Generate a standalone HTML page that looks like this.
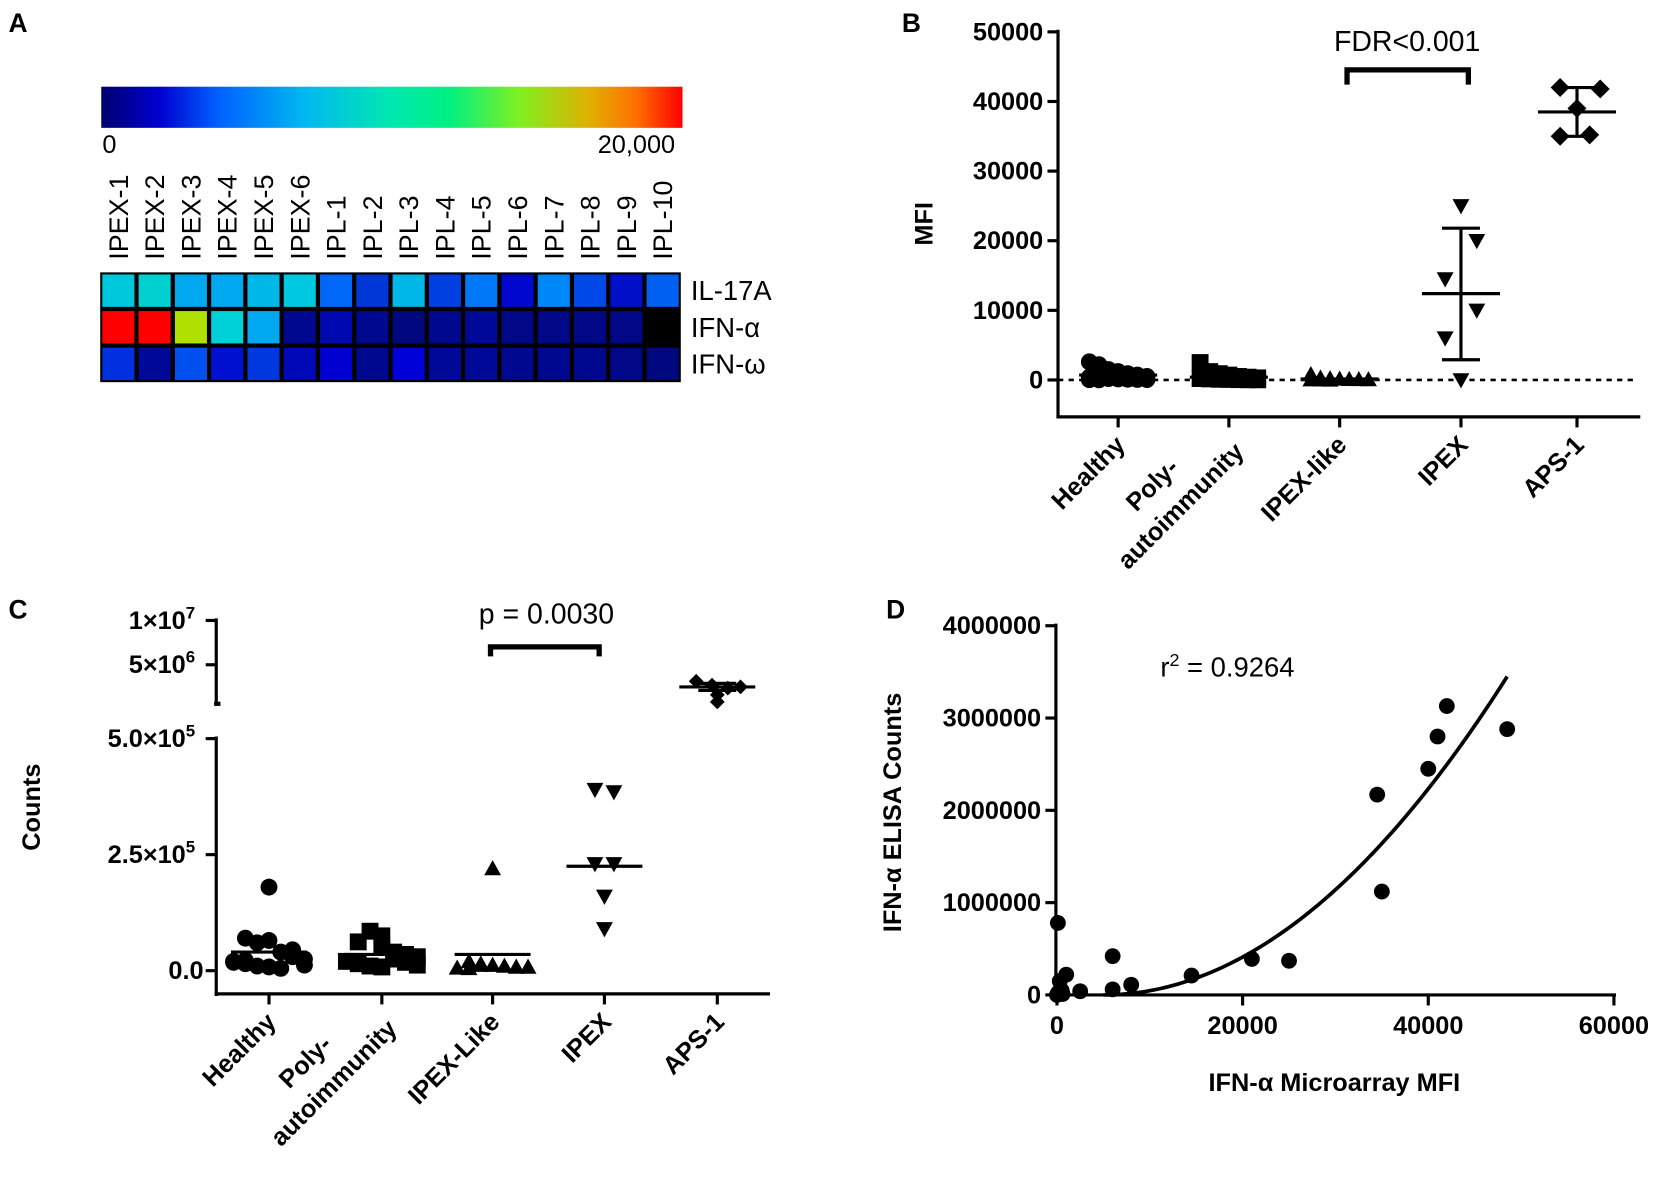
<!DOCTYPE html>
<html><head><meta charset="utf-8"><style>
html,body{margin:0;padding:0;background:#fff;}
svg{display:block;font-family:"Liberation Sans",sans-serif;}
.t{font-weight:bold;font-size:24px;}
</style></head><body>
<svg id="fig" width="1654" height="1204" viewBox="0 0 1568 1141" xmlns="http://www.w3.org/2000/svg">
<defs><linearGradient id="jet" x1="0" x2="1" y1="0" y2="0">
<stop offset="0" stop-color="#000070"/><stop offset="0.1" stop-color="#0000d0"/><stop offset="0.2" stop-color="#0060ff"/>
<stop offset="0.35" stop-color="#00b8f0"/><stop offset="0.5" stop-color="#00e8b0"/><stop offset="0.6" stop-color="#00f080"/>
<stop offset="0.72" stop-color="#80f020"/><stop offset="0.84" stop-color="#e0b000"/><stop offset="0.92" stop-color="#ff7000"/><stop offset="1" stop-color="#ff0000"/></linearGradient></defs>
<g id="A">
<text x="8" y="30" style="font-weight:bold;font-size:25px">A</text>
<rect x="96" y="82" width="551" height="39" fill="url(#jet)"/>
<text x="97" y="145" font-size="24">0</text>
<text x="640" y="145" font-size="24" text-anchor="end">20,000</text>
</g>
<g id="B"><text x="855" y="30" style="font-weight:bold;font-size:25px">B</text></g>
<g id="C"><text x="8" y="586" style="font-weight:bold;font-size:25px">C</text></g>
<g id="D"><text x="840" y="586" style="font-weight:bold;font-size:25px">D</text></g>
</svg>
<script>
const NS="http://www.w3.org/2000/svg";
// ---- Panel A data ----
const hmCols=["IPEX-1","IPEX-2","IPEX-3","IPEX-4","IPEX-5","IPEX-6","IPL-1","IPL-2","IPL-3","IPL-4","IPL-5","IPL-6","IPL-7","IPL-8","IPL-9","IPL-10"];
const hmRows=["IL-17A","IFN-α","IFN-ω"];
const hmIL17=["#00c8dc","#00d0d0","#00a8f0","#00a8f0","#00b8e8","#00c8e0","#0068f8","#0038d8","#00b8e8","#0040e0","#0078f8","#0008d0","#0088f8","#0048e8","#0010c8","#0060f0"];
const hmIFNa=["#ff0000","#ff0000","#b0e000","#00d0d8","#00a8f0","#000890","#0008b0","#000890","#000880","#000890","#000898","#000888","#000888","#000888","#000888","#000000"];
const hmIFNw=["#0030e0","#000898","#0050f0","#0010d0","#0038e0","#0008b8","#0000d0","#000890","#0000d8","#000898","#000898","#000890","#000890","#000890","#000888","#000880"];
// ---- Panel B data ----
const bCats=["Healthy","Poly-\nautoimmunity","IPEX-like","IPEX","APS-1"];
const bTicks=[0,10000,20000,30000,40000,50000];
const bHealthy=[2600,2200,1500,1200,900,700,500,400,300,200,150,100,80,60,40,20,800,600];
const bPoly=[2500,1200,900,700,500,400,300,200,150,100,80,50,30,20];
const bIpexLike=[800,300,200,150,100,80,60,40,30,20];
const bIpex=[25000,20000,14500,10000,6000,0];
const bAps=[42000,41800,39000,35000,35200];
const bMean=[700,400,150,12400,38500];
const bSd=[null,null,null,[2900,21800],[35000,42000]];
// ---- Panel C data ----
const cCats=["Healthy","Poly-\nautoimmunity","IPEX-Like","IPEX","APS-1"];
const cHealthy=[180000,70000,60000,65000,40000,45000,25000,20000,15000,10000,8000,5000,30000,12000,18000,22000];
const cPoly=[75000,62000,85000,50000,40000,35000,30000,20000,15000,10000,8000,25000,18000,12000];
const cIpexLike=[220000,20000,15000,12000,10000,8000,8000,6000,5000,12000];
const cIpex=[390000,385000,230000,230000,160000,90000];
const cAps=[2.9e6,2.7e6,2.6e6,2.5e6,2.0e6,2.2e6];
const cMean=[40000,35000,35000,225000,2.5e6];
// ---- Panel D data ----
const dX=[0,100,200,300,500,1000,2500,6000,6000,8000,14500,21000,25000,34500,35000,40000,41000,42000,48500,100,600];
const dY=[0,780000,30000,150000,50000,220000,40000,420000,60000,110000,210000,390000,370000,2170000,1120000,2450000,2800000,3130000,2880000,20000,10000];
const dYTicks=[0,1000000,2000000,3000000,4000000];
const dXTicks=[0,20000,40000,60000];

const svg=document.getElementById('fig');
function el(tag,attrs,parent,txt){const e=document.createElementNS(NS,tag);for(const k in attrs)e.setAttribute(k,attrs[k]);if(txt!==undefined)e.textContent=txt;(parent||svg).appendChild(e);return e;}
const gA=document.getElementById('A'),gB=document.getElementById('B'),gC=document.getElementById('C'),gD=document.getElementById('D');

// Heatmap
const hx0=95,hy0=258,cw=34.4,rh=34.7;
el('rect',{x:hx0,y:hy0,width:cw*16,height:rh*3,fill:'#000'},gA);
[hmIL17,hmIFNa,hmIFNw].forEach((row,r)=>{row.forEach((c,i)=>{
 const e=el('rect',{x:hx0+i*cw+2,y:hy0+r*rh+2,width:cw-4,height:rh-4,fill:c},gA);
 
 
});
 const t=el('text',{x:655,y:hy0+r*rh+rh/2+9,'font-size':26},gA,hmRows[r]);
 
 
});
hmCols.forEach((n,i)=>{const x=hx0+i*cw+cw/2+9;
 const t=el('text',{x:x,y:246,'font-size':25.5,transform:`rotate(-90 ${x} 246)`},gA,n);
 
 
});

function marker(g,shape,x,y,s){s=s||9;let e;
 if(shape=='circle')e=el('circle',{cx:x,cy:y,r:s},g);
 else if(shape=='square')e=el('rect',{x:x-s,y:y-s,width:2*s,height:2*s},g);
 else if(shape=='up')e=el('polygon',{points:`${x},${y-s} ${x-s},${y+s*0.8} ${x+s},${y+s*0.8}`},g);
 else if(shape=='down')e=el('polygon',{points:`${x},${y+s} ${x-s},${y-s*0.8} ${x+s},${y-s*0.8}`},g);
 else e=el('polygon',{points:`${x},${y-s} ${x+s},${y} ${x},${y+s} ${x-s},${y}`},g);
 e.setAttribute('fill','#000');
 
 
 return e;}
function line(g,x1,y1,x2,y2,w,extra){const e=el('line',Object.assign({x1,y1,x2,y2,stroke:'#000','stroke-width':w||3},extra||{}),g);return e;}
function catLabels(g,cats,xs,y){cats.forEach((c,i)=>{const parts=c.split('\n');
 if(parts.length==1){const x=xs[i]+8,yy=y+18;
  const t=el('text',{x:x,y:yy,'text-anchor':'end',class:'t',transform:`rotate(-45 ${x} ${yy})`},g,parts[0]);
  
  
 } else {
  const pos=[[xs[i]-67,y+60],[xs[i]-40,y+80]];
  parts.forEach((p,j)=>{const x=pos[j][0],yy=pos[j][1];
   const t=el('text',{x:x,y:yy,'text-anchor':'middle',class:'t',transform:`rotate(-45 ${x} ${yy})`},g,p);
   
   });
 }});}
function jitter(i){return ((i%7)-3)*7;}

// Panel B
const bx0=1003,bY=v=>360-v*66/10000,bX=[1060,1165,1270,1385,1495];
line(gB,bx0,28,bx0,396,3);line(gB,bx0-1.5,395,1555,395,3);
bTicks.forEach(v=>{line(gB,bx0-10,bY(v),bx0,bY(v),3);
 const t=el('text',{x:bx0-14,y:bY(v)+8,'text-anchor':'end',class:'t'},gB,String(v));
 
 });
bX.forEach(x=>line(gB,x,395,x,405,3));
line(gB,bx0,360,1552,360,2.5,{'stroke-dasharray':'5,5'});
el('text',{x:884,y:212,'text-anchor':'middle',class:'t','font-size':27,transform:'rotate(-90 884 212)'},gB,'MFI');
catLabels(gB,bCats,bX,405);
[[bHealthy,'circle'],[bPoly,'square'],[bIpexLike,'up']].forEach(([arr,sh],k)=>arr.forEach((v,i)=>marker(gB,sh,bX[k]+jitter(i)*1.3,bY(v),8)));
bIpex.forEach((v,i)=>marker(gB,'down',bX[3]+[0,1,-1,1,-1,0][i]*15,bY(v),8));
bAps.forEach((v,i)=>marker(gB,'diamond',bX[4]+[-16,22,0,-16,12][i],bY(v),9));
bMean.forEach((m,i)=>line(gB,bX[i]-37,bY(m),bX[i]+37,bY(m),3));
bSd.forEach((s,i)=>{if(!s)return;line(gB,bX[i],bY(s[0]),bX[i],bY(s[1]),3);line(gB,bX[i]-18,bY(s[0]),bX[i]+18,bY(s[0]),3);line(gB,bX[i]-18,bY(s[1]),bX[i]+18,bY(s[1]),3);});
el('polyline',{points:'1277,80 1277,66 1392,66 1392,80',fill:'none',stroke:'#000','stroke-width':5},gB);
el('text',{x:1334,y:48,'text-anchor':'middle','font-size':27},gB,'FDR<0.001');

// Panel C
const cx0=205,cY=v=>920-v*220/500000,cYu=v=>672-v*8.4e-6,cX=[255,362,467,573,680];
line(gC,cx0,586,cx0,668,3);line(gC,cx0-2,667,cx0+4,667,4);line(gC,cx0,698,cx0,944,3);line(gC,cx0-1.5,942,730,942,3);
[[1e7,'1×10','7'],[5e6,'5×10','6']].forEach(([v,b,e])=>{line(gC,cx0-10,cYu(v),cx0,cYu(v),3);
 const t=el('text',{x:cx0-20,y:cYu(v)+8,'text-anchor':'end',class:'t'},gC);t.textContent=b;
 el('tspan',{dy:-10,'font-size':16},t,e);});
[[0,'0.0',''],[250000,'2.5×10','5'],[500000,'5.0×10','5']].forEach(([v,b,e])=>{line(gC,cx0-10,cY(v),cx0,cY(v),3);
 const t=el('text',{x:e?cx0-20:cx0-12,y:cY(v)+8,'text-anchor':'end',class:'t'},gC);t.textContent=b;
 if(e)el('tspan',{dy:-10,'font-size':16},t,e);});
cX.forEach(x=>line(gC,x,942,x,952,3));
el('text',{x:38,y:765,'text-anchor':'middle',class:'t','font-size':27,transform:'rotate(-90 38 765)'},gC,'Counts');
catLabels(gC,cCats,cX,952);
[[cHealthy,'circle'],[cPoly,'square'],[cIpexLike,'up']].forEach(([arr,sh],k)=>arr.forEach((v,i)=>marker(gC,sh,cX[k]+(i==0?0:jitter(i)*1.6),cY(v),8)));
cIpex.forEach((v,i)=>marker(gC,'down',cX[3]+[-9,9,-9,9,0,0][i],cY(v),8));
cAps.forEach((v,i)=>marker(gC,'diamond',cX[4]+[-20,-5,10,22,0,0][i],cYu(v)-[2,0,-2,0,-10,-5][i],7));
cMean.forEach((m,i)=>{const y=i==4?cYu(m):cY(m);line(gC,cX[i]-36,y,cX[i]+36,y,3);});
line(gC,cX[4]-18,cYu(2.9e6),cX[4]+18,cYu(2.9e6),3);line(gC,cX[4]-18,cYu(2.1e6),cX[4]+18,cYu(2.1e6),3);
el('polyline',{points:'465,622 465,613 568,613 568,622',fill:'none',stroke:'#000','stroke-width':5},gC);
el('text',{x:518,y:591,'text-anchor':'middle','font-size':27},gC,'p = 0.0030');

// Panel D
const dx0=1001,dXf=v=>1002+v*528/60000,dYf=v=>943-v*350/4000000;
line(gD,dx0,591,dx0,945,3);line(gD,dx0-1.5,943,1532,943,3);
dYTicks.forEach(v=>{line(gD,dx0-10,dYf(v),dx0,dYf(v),3);
 const t=el('text',{x:dx0-14,y:dYf(v)+8,'text-anchor':'end',class:'t'},gD,String(v));
 
 });
dXTicks.forEach(v=>{line(gD,dXf(v),943,dXf(v),953,3);
 const t=el('text',{x:dXf(v),y:980,'text-anchor':'middle',class:'t'},gD,String(v));
 
 });
el('text',{x:1265,y:1034,'text-anchor':'middle',class:'t','font-size':26},gD,'IFN-α Microarray MFI');
el('text',{x:854,y:770,'text-anchor':'middle',class:'t','font-size':26,transform:'rotate(-90 854 770)'},gD,'IFN-α ELISA Counts');
const r2=el('text',{x:1100,y:641,'font-size':26},gD,'r');el('tspan',{dy:-10,'font-size':17},r2,'2');el('tspan',{dy:10},r2,' =  0.9264');

let pts=[];for(let x=5000;x<=48500;x+=500){pts.push(dXf(x)+','+dYf(1.823e-3*(x-5000)*(x-5000)));}
el('polyline',{points:pts.join(' '),fill:'none',stroke:'#000','stroke-width':3.5},gD);
dX.forEach((x,i)=>marker(gD,'circle',dXf(x),dYf(dY[i]),7.5));
</script>
</body></html>
